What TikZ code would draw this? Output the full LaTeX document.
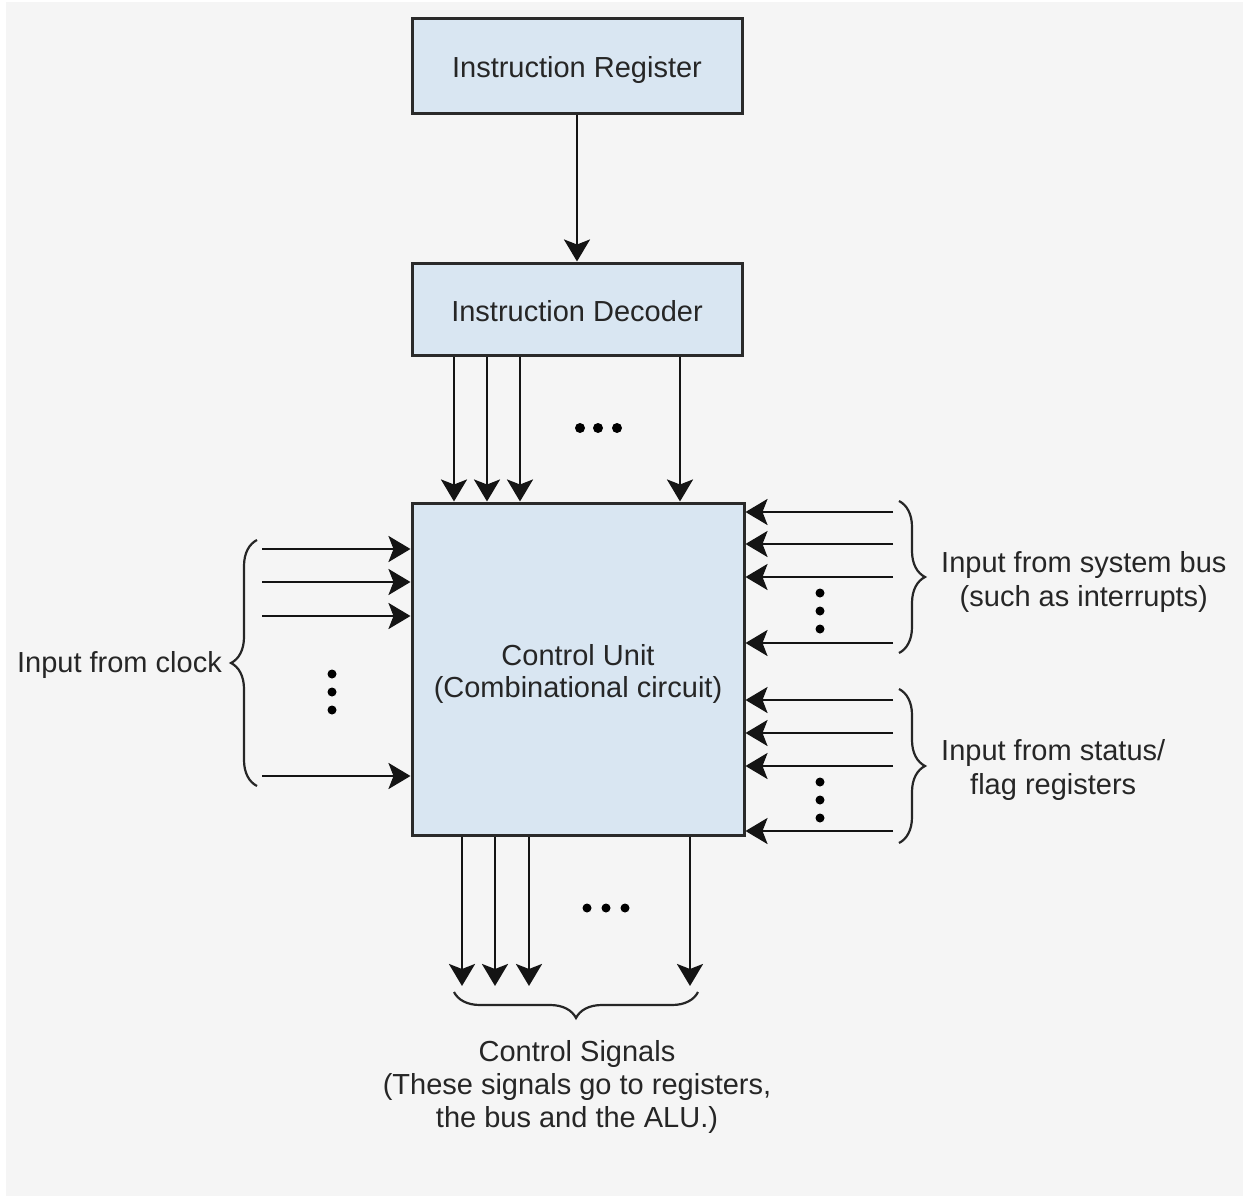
\documentclass[tikz,border=0pt]{standalone}
\usepackage{fontspec}
\setmainfont{Liberation Sans}
\usetikzlibrary{arrows.meta,decorations.pathreplacing}

\definecolor{panel}{HTML}{F5F5F5}
\definecolor{boxfill}{HTML}{D9E6F2}
\definecolor{boxline}{HTML}{2A2A2A}
\definecolor{ink}{HTML}{262626}

% lower a text by #1 without changing the size it claims
\newcommand{\dropby}[2]{\raisebox{-#1}[0pt][0pt]{#2}}

\tikzset{
  unitbox/.style={draw=boxline, line width=3pt, fill=boxfill, inner sep=0pt,
                  font=\fontsize{29}{34}\selectfont, text=ink},
  arr/.style={draw=black!92, line width=2.7pt,
              -{Stealth[length=22pt,width=26pt,inset=5pt]}},
  curly/.style={draw=ink, line width=2.2pt,
                decorate, decoration={brace, amplitude=26pt}},
  label/.style={font=\fontsize{29}{34}\selectfont, text=ink, inner sep=0pt, align=center},
  dot/.style={fill=black, draw=none}
}

\begin{document}
\begin{tikzpicture}[x=1pt, y=-1pt]
  % page and background panel
  \useasboundingbox (0,0) rectangle (1243,1196);
  \fill[white] (0,0) rectangle (1243,1196);
  \fill[panel] (6,2) rectangle (1243,1196);

  % blocks
  \node[unitbox, minimum width=330pt, minimum height=95pt] (ir) at (577,66.5)
    {\dropby{11pt}{Instruction Register}};
  \node[unitbox, minimum width=330pt, minimum height=92pt] (id) at (577,309)
    {\dropby{12.4pt}{Instruction Decoder}};
  \node[unitbox, minimum width=332pt, minimum height=332pt,
        font=\fontsize{29}{32}\selectfont] (cu) at (578,669)
    {\dropby{12.7pt}{\begin{tabular}{@{}c@{}}Control Unit\\(Combinational circuit)\end{tabular}}};

  % register to decoder
  \draw[arr] (ir) -- (id);

  % decoder outputs into the control unit
  \foreach \x in {454,487,520,680}
    \draw[arr] (id.south -| \x,0) -- (cu.north -| \x,0);
  \foreach \x in {580,598,617}
    \fill[dot] (\x,428) circle (5pt);

  % clock inputs
  \foreach \y in {549,582,616,776}
  {
    \coordinate (clk\y) at (262,\y);
    \draw[arr] (clk\y) -- (cu.west |- 0,\y);
  }
  \foreach \y in {674,692,710}
    \fill[dot] (332,\y) circle (4.5pt);
  \coordinate (lbt) at (257,786);
  \coordinate (lbb) at (257,540);
  \draw[curly] (lbt) -- (lbb);
  \node[label, anchor=east] (clklab) at (222,665) {Input from clock};

  % system bus inputs
  \foreach \y in {512,544,577,643}
  {
    \coordinate (bus\y) at (893,\y);
    \draw[arr] (bus\y) -- (cu.east |- 0,\y);
  }
  \foreach \y in {593,611,629}
    \fill[dot] (820,\y) circle (4.5pt);
  \coordinate (rb1a) at (899,501);
  \coordinate (rb1b) at (899,653);
  \draw[curly] (rb1a) -- (rb1b);
  \node[label, anchor=west] (buslab) at (941,582) {Input from system bus\\(such as interrupts)};

  % status / flag inputs
  \foreach \y in {700,733,766,831}
  {
    \coordinate (flg\y) at (893,\y);
    \draw[arr] (flg\y) -- (cu.east |- 0,\y);
  }
  \foreach \y in {782,800,818}
    \fill[dot] (820,\y) circle (4.5pt);
  \coordinate (rb2a) at (899,689);
  \coordinate (rb2b) at (899,843);
  \draw[curly] (rb2a) -- (rb2b);
  \node[label, anchor=west] (flglab) at (941,770) {Input from status/\\flag registers};

  % control signal outputs
  \foreach \x in {462,495,529,690}
  {
    \coordinate (out\x) at (\x,986);
    \draw[arr] (cu.south -| \x,0) -- (out\x);
  }
  \foreach \x in {587,606,625}
    \fill[dot] (\x,908) circle (4.5pt);
  \coordinate (bba) at (698,992);
  \coordinate (bbb) at (454,992);
  \draw[curly] (bba) -- (bbb);
  \node[label, font=\fontsize{29}{33}\selectfont] (sig) at (577,1087)
    {Control Signals\\(These signals go to registers,\\the bus and the ALU.)};
\end{tikzpicture}
\end{document}
